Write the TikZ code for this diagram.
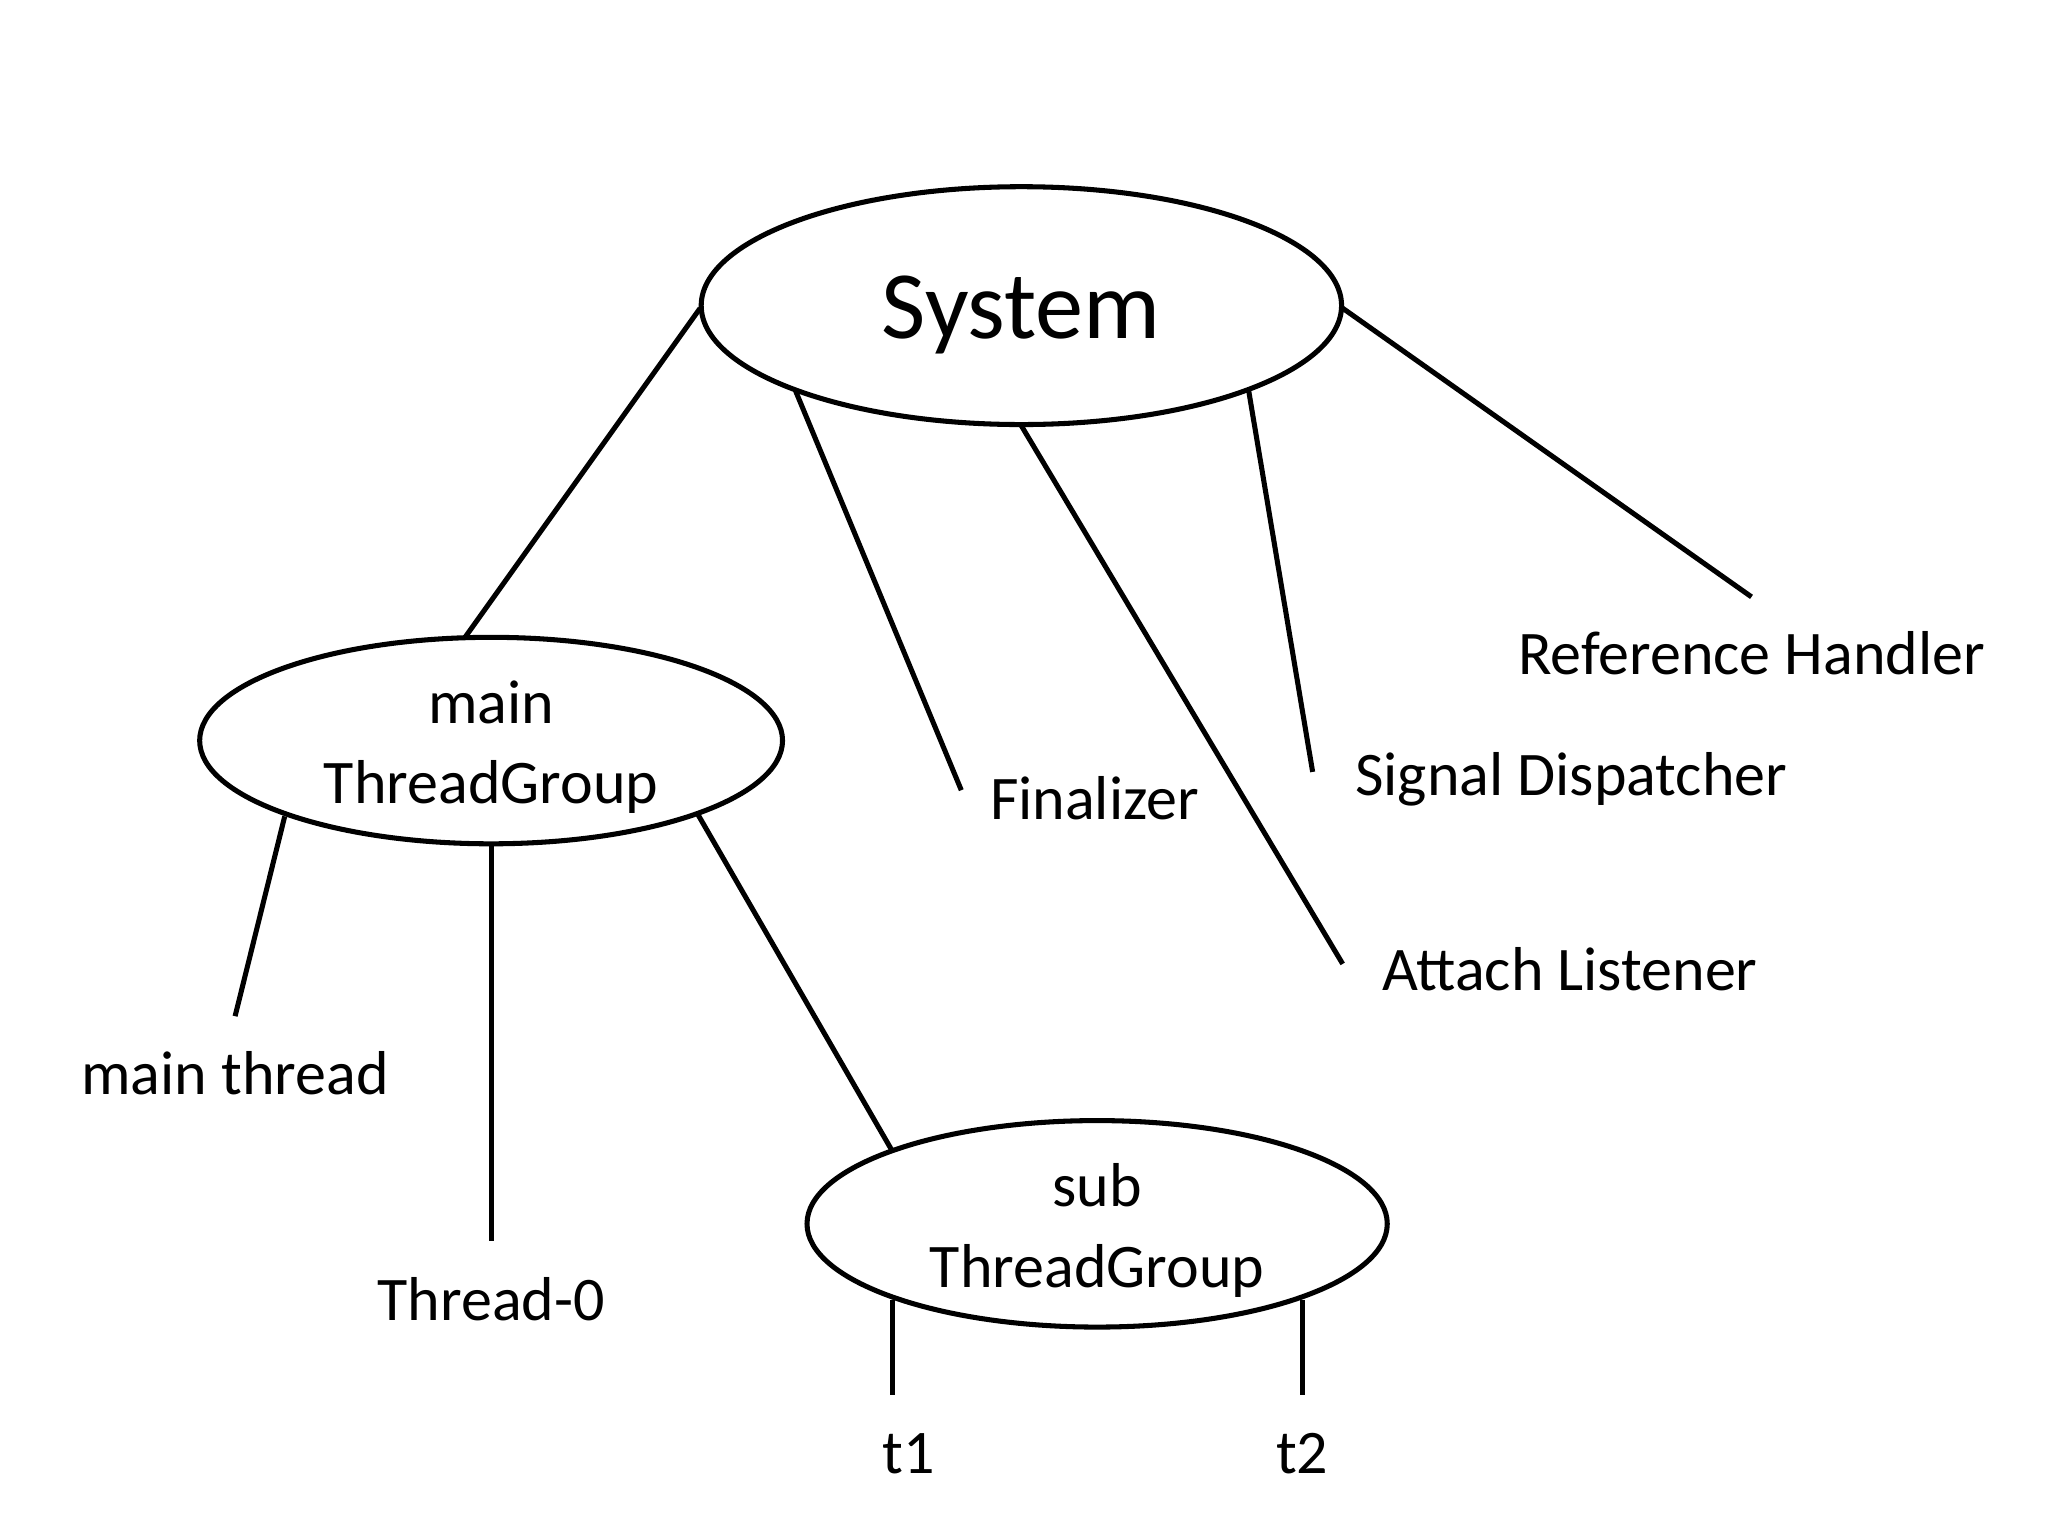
\documentclass[tikz,border=0pt]{standalone}
\usepackage{fontspec}
\setmainfont{Carlito}
\usetikzlibrary{shapes.geometric}
\begin{document}
\begin{tikzpicture}[x=0.01cm,y=-0.01cm,
  ell/.style={ellipse,draw,line width=1.1pt,inner sep=0pt},
  lbl/.style={font=\fontsize{13.5}{16}\selectfont,inner sep=0pt,anchor=center},
  tg/.style={font=\fontsize{13.5}{17.5}\selectfont,align=center,inner sep=0pt},
  ln/.style={line width=1.1pt}]
\useasboundingbox (0,0) rectangle (1568,1176);
\node[ell,minimum width=4.9cm,minimum height=1.82cm] (sys) at (782,234) {};
\node[font=\fontsize{21}{24}\selectfont] at (782,241) {System};
\node[ell,minimum width=4.46cm,minimum height=1.58cm] (mtg) at (376,567) {};
\node[tg] at (376,572) {main\\ThreadGroup};
\node[ell,minimum width=4.44cm,minimum height=1.58cm] (stg) at (840,937) {};
\node[tg] at (840,942) {sub\\ThreadGroup};
\node[lbl] (rh) at (1341,500) {Reference Handler};
\node[lbl] (sd) at (1203,597) {Signal Dispatcher};
\node[lbl] (fin) at (838,611) {Finalizer};
\node[lbl] (al) at (1202,742) {Attach Listener};
\node[lbl] (mt) at (180,822) {main thread};
\node[lbl] (t0) at (376,995) {Thread-0};
\node[lbl] (t1) at (696,1113) {t1};
\node[lbl] (t2) at (997,1113) {t2};
\coordinate (a1) at (536,236); \coordinate (b1) at (356,488);
\coordinate (a2) at (609,299); \coordinate (b2) at (736,605);
\coordinate (a3) at (782,326); \coordinate (b3) at (1028,738);
\coordinate (a4) at (956,299); \coordinate (b4) at (1005,591);
\coordinate (a5) at (1028,236); \coordinate (b5) at (1341,457);
\coordinate (a6) at (218,625); \coordinate (b6) at (180,778);
\coordinate (a7) at (376,647); \coordinate (b7) at (376,950);
\coordinate (a8) at (534,623); \coordinate (b8) at (683,881);
\coordinate (a9) at (683,995); \coordinate (b9) at (683,1068);
\coordinate (a10) at (997,995); \coordinate (b10) at (997,1068);
\foreach \i in {1,...,10} \draw[ln] (a\i) -- (b\i);
\end{tikzpicture}
\end{document}
